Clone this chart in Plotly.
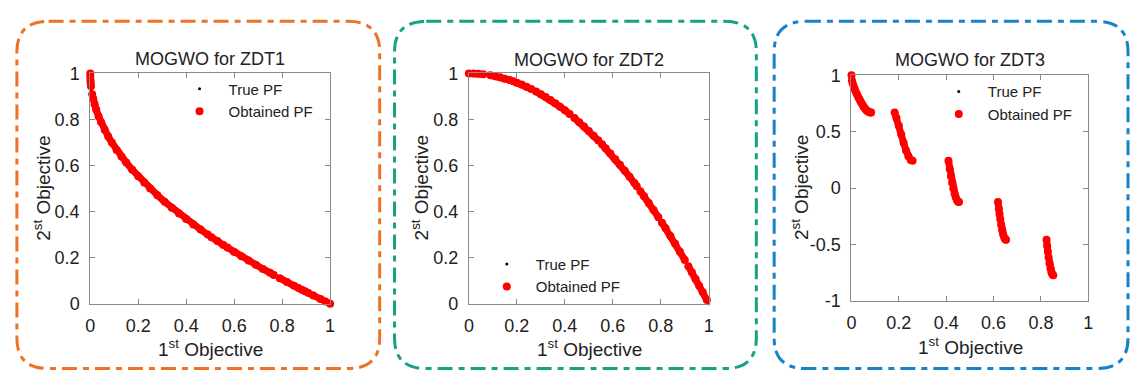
import plotly.graph_objects as go

W, H = 1135, 380

# ---------------- data ----------------
# ZDT1
zdt1_true_x = [0, 0.002, 0.005, 0.01, 0.02, 0.03, 0.05, 0.07, 0.1, 0.13, 0.16, 0.2, 0.25, 0.3, 0.35,
               0.4, 0.45, 0.5, 0.55, 0.6, 0.65, 0.7, 0.75, 0.8, 0.85, 0.9, 0.95, 1.0]
zdt1_true_y = [1, 0.955, 0.929, 0.9, 0.859, 0.827, 0.776, 0.735, 0.684, 0.639, 0.6, 0.553, 0.5, 0.452, 0.408,
               0.368, 0.329, 0.293, 0.258, 0.225, 0.194, 0.163, 0.134, 0.106, 0.078, 0.051, 0.025, 0.0]
zdt1_obt_x = [0.0, 0.0002, 0.0008, 0.0016, 0.003, None, 0.0081, 0.012, 0.018, 0.025, 0.035, 0.045, 0.06, 0.075,
              0.09, 0.11, 0.13, 0.15, 0.175, 0.2, 0.225, 0.25, 0.28, 0.31, 0.34, 0.37, 0.4, 0.43, 0.46, 0.49,
              None, 0.505, 0.53, 0.555, None, 0.572, 0.6, 0.63, 0.66, 0.69, 0.72, 0.75, 0.765, None, 0.79,
              0.82, 0.85, 0.868, None, 0.882, 0.895, None, 0.908, 0.93, 0.96, 0.98, 1.0]
zdt1_obt_y = [1.0, 0.986, 0.972, 0.96, 0.945, None, 0.91, 0.89, 0.866, 0.842, 0.813, 0.788, 0.755, 0.726,
              0.7, 0.668, 0.639, 0.613, 0.582, 0.553, 0.526, 0.5, 0.471, 0.443, 0.417, 0.392, 0.368, 0.344, 0.322, 0.3,
              None, 0.289, 0.272, 0.255, None, 0.244, 0.225, 0.206, 0.188, 0.169, 0.151, 0.134, 0.125, None, 0.111,
              0.094, 0.078, 0.068, None, 0.061, 0.054, None, 0.047, 0.036, 0.02, 0.01, 0.0]

# ZDT2
zdt2_true_x = [0, 0.05, 0.1, 0.15, 0.2, 0.25, 0.3, 0.35, 0.4, 0.45, 0.5, 0.55, 0.6, 0.65, 0.7, 0.75,
               0.8, 0.85, 0.9, 0.95, 0.975, 1.0]
zdt2_true_y = [1, 0.9975, 0.99, 0.9775, 0.96, 0.9375, 0.91, 0.8775, 0.84, 0.7975, 0.75, 0.6975, 0.64,
               0.5775, 0.51, 0.4375, 0.36, 0.2775, 0.19, 0.0975, 0.0494, 0.0]
zdt2_obt_x = [0.0, 0.02, 0.04, 0.06, None, 0.09, 0.11, 0.13, 0.15, 0.17, None, 0.185, 0.2, 0.22, 0.24, 0.26,
              None, 0.28, 0.3, 0.32, 0.34, 0.36, 0.38, 0.4, 0.42, None, 0.44, 0.46, 0.48, 0.5, 0.52, 0.54, None,
              0.555, 0.57, 0.59, 0.61, 0.63, 0.65, 0.67, 0.69, 0.7, None, 0.715, 0.73, 0.75, 0.77, 0.79, None,
              0.805, 0.82, 0.84, 0.86, 0.88, 0.9, None, 0.915, 0.93, 0.945, 0.96, 0.975, 0.992]
zdt2_obt_y = [1.0, 0.9996, 0.9984, 0.9964, None, 0.9919, 0.9879, 0.9831, 0.9775, 0.9711, None, 0.9658, 0.96,
              0.9516, 0.9424, 0.9324, None, 0.9216, 0.91, 0.8976, 0.8844, 0.8704, 0.8556, 0.84, 0.8236, None,
              0.8064, 0.7884, 0.7696, 0.75, 0.7296, 0.7084, None, 0.692, 0.6751, 0.6519, 0.6279, 0.6031, 0.5775,
              0.5511, 0.5239, 0.51, None, 0.4888, 0.4671, 0.4375, 0.4071, 0.3759, None, 0.352, 0.3276, 0.2944,
              0.2604, 0.2256, 0.19, None, 0.1628, 0.1351, 0.107, 0.0784, 0.0494, 0.016]

# ZDT3
zdt3_true_x = [0.0, 0.01, 0.03, 0.05, 0.07, 0.083, None, 0.1822, 0.2, 0.22, 0.24, 0.2578, None,
               0.4093, 0.42, 0.43, 0.44, 0.4539, None, 0.6184, 0.63, 0.64, 0.6525, None,
               0.8233, 0.833, 0.843, 0.8518]
zdt3_true_y = [1.0, 0.8969, 0.8025, 0.7264, 0.6788, 0.6696, None, 0.6698, 0.5528, 0.4017, 0.2818, 0.2422, None,
               0.2423, 0.105, -0.0036, -0.0817, -0.1242, None, -0.1241, -0.3034, -0.4087, -0.4583, None,
               -0.4579, -0.6302, -0.7409, -0.7733]
zdt3_obt_x = [0.0, None, 0.002, 0.005, 0.01, 0.015, 0.02, 0.025, 0.03, 0.035, 0.04, 0.045, 0.05, 0.055, 0.06, 0.065,
              0.07, 0.075, 0.08, 0.083, None,
              0.1822, 0.19, 0.2, 0.21, 0.22, 0.23, 0.24, 0.25, 0.2578, None,
              0.4093, 0.415, 0.42, 0.425, 0.43, 0.435, 0.44, 0.445, 0.45, 0.4539, None,
              0.6184, 0.622, 0.625, None, 0.628, 0.632, 0.636, 0.64, 0.645, 0.65, 0.6525, None,
              0.8233, 0.826, 0.829, None, 0.832, 0.836, 0.84, 0.844, 0.848, 0.8518]
zdt3_obt_y = [1.0, None, 0.955, 0.9285, 0.8969, 0.8707, 0.8468, 0.8242, 0.8025, 0.7817, 0.762, 0.7435, 0.7264, 0.7112,
              0.698, 0.6871, 0.6788, 0.6731, 0.6702, 0.6696, None,
              0.6698, 0.6228, 0.5528, 0.4768, 0.4017, 0.3343, 0.2818, 0.25, 0.2422, None,
              0.2423, 0.1674, 0.105, 0.0476, -0.0036, -0.0471, -0.0817, -0.1066, -0.1208, -0.1242, None,
              -0.1241, -0.18, -0.2325, None, -0.275, -0.328, -0.374, -0.4087, -0.4402, -0.4562, -0.4583, None,
              -0.4579, -0.513, -0.565, None, -0.613, -0.668, -0.712, -0.747, -0.7673, -0.7733]

titles = ["MOGWO for ZDT1", "MOGWO for ZDT2", "MOGWO for ZDT3"]
legend_names = ["True PF", "Obtained PF"]
xtick_vals = [0, 0.2, 0.4, 0.6, 0.8, 1]
xtick_text = ["0", "0.2", "0.4", "0.6", "0.8", "1"]
ytick_vals_01 = [0, 0.2, 0.4, 0.6, 0.8, 1]
ytick_text_01 = ["0", "0.2", "0.4", "0.6", "0.8", "1"]
ytick_vals_3 = [-1, -0.5, 0, 0.5, 1]
ytick_text_3 = ["-1", "-0.5", "0", "0.5", "1"]

panels = [
    (zdt1_true_x, zdt1_true_y, zdt1_obt_x, zdt1_obt_y),
    (zdt2_true_x, zdt2_true_y, zdt2_obt_x, zdt2_obt_y),
    (zdt3_true_x, zdt3_true_y, zdt3_obt_x, zdt3_obt_y),
]

# ---------------- styling ----------------
FONT = "Liberation Sans, Arial, sans-serif"
RED = "#FF0000"
AXIS_GRAY = "#8a8a8a"
TXT = "#222222"
border_colors = ["#EF7125", "#14A385", "#1683C6"]


def px_x(p):
    return p / W


def px_y(p):
    return 1 - p / H


fig = go.Figure()

for i, (tx, ty, ox, oy) in enumerate(panels):
    n = "" if i == 0 else str(i + 1)
    xa, ya = "x" + n, "y" + n
    lg = "legend" + n
    fig.add_trace(go.Scatter(x=tx, y=ty, mode="lines", line=dict(color="black", width=1),
                             xaxis=xa, yaxis=ya, showlegend=False, hoverinfo="skip", cliponaxis=False))
    fig.add_trace(go.Scatter(x=tx, y=ty, mode="markers", marker=dict(color="black", size=3),
                             name=legend_names[0], xaxis=xa, yaxis=ya, legend=lg, cliponaxis=False))
    fig.add_trace(go.Scatter(x=ox, y=oy, mode="lines", line=dict(color=RED, width=7),
                             xaxis=xa, yaxis=ya, showlegend=False, hoverinfo="skip", cliponaxis=False))
    fig.add_trace(go.Scatter(x=ox, y=oy, mode="markers", marker=dict(color=RED, size=8),
                             name=legend_names[1], xaxis=xa, yaxis=ya, legend=lg, cliponaxis=False))

# axes domains (pixels)
xdom = [(86, 328), (468, 710), (854, 1093)]
ydom = [(67, 310), (67, 310), (69, 307)]

axis_common = dict(showline=True, linecolor=AXIS_GRAY, linewidth=1, mirror="ticks", ticks="inside",
                   ticklen=5, tickcolor=AXIS_GRAY, tickwidth=1, showgrid=False, zeroline=False,
                   tickfont=dict(family=FONT, size=18, color=TXT))

layout = {}
for i in range(3):
    n = "" if i == 0 else str(i + 1)
    layout["xaxis" + n] = dict(domain=[px_x(xdom[i][0]), px_x(xdom[i][1])], range=[0, 1],
                               tickvals=xtick_vals, ticktext=xtick_text, anchor="y" + n,
                               ticklabelstandoff=6, **axis_common)
    if i < 2:
        yv, yt, yr = ytick_vals_01, ytick_text_01, [0, 1]
    else:
        yv, yt, yr = ytick_vals_3, ytick_text_3, [-1, 1]
    layout["yaxis" + n] = dict(domain=[px_y(ydom[i][1]), px_y(ydom[i][0])], range=yr,
                               tickvals=yv, ticktext=yt, anchor="x" + n,
                               ticklabelstandoff=6, **axis_common)

fig.update_layout(**layout)

# legends
leg_pos = [(167, 66), (477, 251), (933, 69)]
for i, (lx, ly) in enumerate(leg_pos):
    n = "" if i == 0 else str(i + 1)
    fig.update_layout(**{"legend" + n: dict(x=px_x(lx), y=px_y(ly), xanchor="left", yanchor="top",
                                            bgcolor="rgba(0,0,0,0)", borderwidth=0,
                                            font=dict(family=FONT, size=15, color=TXT),
                                            itemwidth=48, tracegroupgap=0)})

# titles and axis titles as annotations
title_pos = [(207, 52), (589, 53), (974, 53)]
xt_pos = [(207, 357), (590, 357), (974, 355)]
yt_pos = [(37, 188), (419, 188), (802, 187)]
annotations = []
for i in range(3):
    annotations.append(dict(text=titles[i], x=px_x(title_pos[i][0]), y=px_y(title_pos[i][1]),
                            xref="paper", yref="paper", showarrow=False, xanchor="center", yanchor="middle",
                            font=dict(family=FONT, size=18, color=TXT)))
    annotations.append(dict(text="1<sup>st</sup> Objective", x=px_x(xt_pos[i][0]), y=px_y(xt_pos[i][1]),
                            xref="paper", yref="paper", showarrow=False, xanchor="center", yanchor="middle",
                            font=dict(family=FONT, size=19, color=TXT)))
    annotations.append(dict(text="2<sup>st</sup> Objective", x=px_x(yt_pos[i][0]), y=px_y(yt_pos[i][1]),
                            xref="paper", yref="paper", showarrow=False, xanchor="center", yanchor="middle",
                            textangle=-90, font=dict(family=FONT, size=19, color=TXT)))


def rounded_rect(l, t, r, b, rad):
    rx, ry = rad / W, rad / H
    L, R, T, B = px_x(l), px_x(r), px_y(t), px_y(b)
    return (f"M {L + rx},{T} L {R - rx},{T} Q {R},{T} {R},{T - ry} "
            f"L {R},{B + ry} Q {R},{B} {R - rx},{B} L {L + rx},{B} Q {L},{B} {L},{B + ry} "
            f"L {L},{T - ry} Q {L},{T} {L + rx},{T} Z")


borders = [(12, 12, 378, 378.5), (393, 12, 758, 378.5), (776, 12, 1133, 378.5)]
shapes = []
for i, (l, t, r, b) in enumerate(borders):
    shapes.append(dict(type="path", xref="paper", yref="paper", path=rounded_rect(l, t, r, b, 32),
                       line=dict(color=border_colors[i], width=3, dash="15px,6px,6px,6px")))

fig.update_layout(width=W, height=H, margin=dict(l=0, r=0, t=0, b=0),
                  paper_bgcolor="white", plot_bgcolor="white",
                  annotations=annotations, shapes=shapes,
                  font=dict(family=FONT, color=TXT))

fig.write_html("out.html")
